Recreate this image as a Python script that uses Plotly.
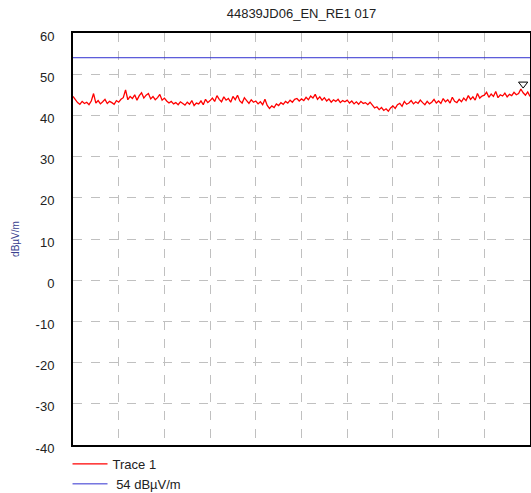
import plotly.graph_objects as go

title_text = "44839JD06_EN_RE1 017"
y_label = "dBµV/m"
y_ticks = [60, 50, 40, 30, 20, 10, 0, -10, -20, -30, -40]

trace1_name = "Trace 1"
trace1_values = [
    44.6, 43.8, 43.1, 42.7, 43.4, 42.9, 43.2, 42.6, 43.5, 45.3, 43.0, 43.6, 42.8, 43.3, 43.9, 42.9, 43.4, 43.1, 42.7, 43.6,
    43.2, 43.9, 44.3, 46.2, 43.8, 44.6, 44.1, 45.0, 43.7, 44.8, 45.5, 44.2, 44.9, 45.3, 44.0, 44.6, 43.8, 44.3, 45.1, 43.7,
    44.2, 43.5, 43.0, 43.4, 42.8, 43.1, 42.6, 43.3, 42.9, 42.5, 43.2, 42.7, 43.6, 42.4, 43.0, 42.8, 43.5, 42.6, 43.9, 43.1,
    43.6, 44.2, 43.4, 44.8, 43.9, 43.3, 44.5, 43.7, 44.1, 43.2, 44.6, 43.8, 44.9, 43.5, 43.0, 44.3, 43.6, 42.9, 43.8, 43.2,
    43.5, 42.8, 43.3, 42.6, 43.9, 42.4, 41.7, 42.3, 41.9, 42.8, 42.4, 43.1, 42.7, 43.4, 43.0, 43.7, 43.2, 43.9, 44.1, 43.5,
    44.0, 43.6, 44.4, 43.8, 44.7, 44.2, 45.1, 43.9, 44.5, 43.7, 44.3, 43.5, 44.0, 43.2, 43.8, 43.4, 43.9, 43.1, 43.6, 43.3,
    43.7, 43.0, 43.5, 42.8, 43.3, 42.7, 43.4, 42.9, 43.1, 42.6, 43.2, 42.4, 41.8, 42.1, 41.4, 41.9, 41.2, 41.6, 41.0, 41.8,
    42.3, 41.7, 42.6, 42.9, 42.2, 43.4, 42.7, 43.0, 43.6, 42.8, 43.3, 42.9, 43.7, 43.1, 42.6, 43.4, 42.8, 43.2, 43.9, 43.0,
    43.5, 42.9, 44.1, 43.3, 43.8, 43.0, 44.4, 43.4, 43.1, 43.9, 43.3, 44.2, 43.6, 44.8, 43.9, 44.5, 43.7, 45.3, 44.2, 44.7,
    44.9, 45.6, 44.4, 45.2, 44.6, 45.8, 44.3, 45.0, 44.7, 45.4, 44.5, 45.1, 44.8, 45.6, 45.0, 45.3, 46.4, 45.5, 44.9, 45.7, 44.6,
]
trace1_x = list(range(len(trace1_values)))

limit_name = "\u00a054 dBµV/m"
limit_value = 54
limit_x = [trace1_x[0], trace1_x[-1]]

marker_index = 197
marker_value = 47.6

font_family = "Liberation Sans, Arial, sans-serif"

fig = go.Figure()
fig.add_trace(go.Scatter(
    x=trace1_x, y=trace1_values, mode="lines", name=trace1_name,
    line=dict(color="#ff0000", width=1.3),
))
fig.add_trace(go.Scatter(
    x=limit_x, y=[limit_value, limit_value], mode="lines", name=limit_name,
    line=dict(color="#3030d0", width=1),
))
fig.add_trace(go.Scatter(
    x=[marker_index], y=[marker_value], mode="markers", showlegend=False,
    marker=dict(symbol="triangle-down-open", size=8, color="#000000", line=dict(width=1)),
))

fig.update_layout(
    width=531, height=493,
    margin=dict(l=73, r=1, t=33, b=48, autoexpand=False),
    paper_bgcolor="white", plot_bgcolor="white",
    font=dict(family=font_family, size=13, color="#222222"),
    title=dict(text=title_text, x=0.5, xref="paper", xanchor="center",
               y=1 - 13 / 493, yref="container", yanchor="middle",
               font=dict(size=13, color="#222222")),
    showlegend=True,
    legend=dict(x=-0.012, xanchor="left", yref="container", y=1 - 449 / 493, yanchor="top",
                font=dict(size=13, color="#222222"),
                bgcolor="rgba(0,0,0,0)", tracegroupgap=0, itemwidth=35),
)
fig.update_xaxes(
    range=[trace1_x[0], trace1_x[-1]], dtick=(trace1_x[-1] - trace1_x[0]) / 10, tick0=0,
    showticklabels=False, ticks="",
    showgrid=True, gridcolor="#c0c0c0", griddash="dash", gridwidth=1,
    zeroline=False, showline=True, linecolor="#000000", linewidth=2, mirror=True,
)
fig.update_yaxes(
    range=[-40, 60], tickvals=y_ticks, ticktext=[str(v) for v in y_ticks],
    ticks="", ticklabelstandoff=14, ticklabelshift=3,
    showgrid=True, gridcolor="#c0c0c0", griddash="dash", gridwidth=1,
    zeroline=False, showline=True, linecolor="#000000", linewidth=2, mirror=True,
    title=dict(text=y_label, font=dict(size=10, color="#3a3f8f"), standoff=14),
)

fig.write_html("out.html")
